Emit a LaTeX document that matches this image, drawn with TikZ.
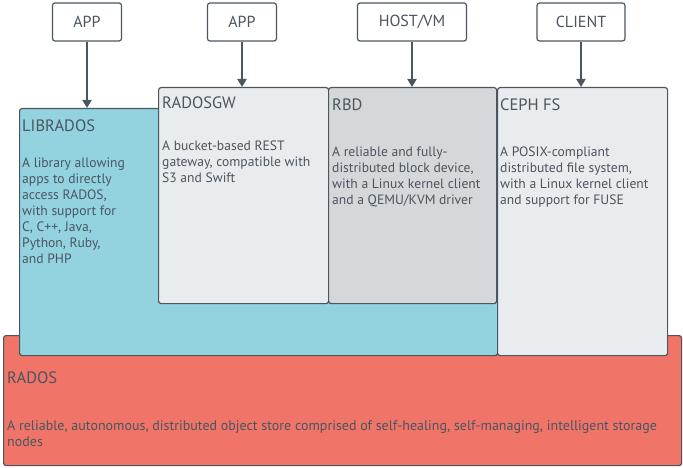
\documentclass[tikz,border=0pt]{standalone}
\usepackage{fontspec}
\setmainfont{PT Sans}
\usepackage{xcolor}
\usetikzlibrary{arrows.meta, positioning, calc}
\definecolor{edgegray}{HTML}{4B5660}
\definecolor{textgray}{HTML}{4A5560}
\definecolor{libblue}{HTML}{93D3E0}
\definecolor{lightpanel}{HTML}{E9ECEE}
\definecolor{darkpanel}{HTML}{D5D8DA}
\definecolor{radosred}{HTML}{F07468}
\tikzset{
  clientbox/.style={
    rectangle, draw=edgegray, line width=1.2pt, rounded corners=2.5pt, fill=white,
    minimum width=69pt, minimum height=38pt, text=textgray, font=\fontsize{16}{18}\selectfont
  },
  layerbox/.style={
    rectangle, draw=edgegray, line width=1.2pt, rounded corners=2.5pt,
    anchor=north west, inner sep=0pt
  },
  layertitle/.style={
    anchor=north west, inner sep=0pt, text=textgray, font=\fontsize{16.5}{18}\selectfont
  },
  layertext/.style={
    anchor=north west, inner sep=0pt, align=left, text=textgray,
    font=\fontsize{13.6}{16}\selectfont
  },
  flowarrow/.style={
    draw=edgegray, line width=1.8pt, -{Triangle[length=8pt, width=9pt]}
  }
}
\begin{document}
\begin{tikzpicture}[x=1pt, y=-1pt]
  \useasboundingbox (0,0) rectangle (683,468);
  % base layer
  \node[layerbox, fill=radosred, minimum width=678pt, minimum height=130pt] (rados) at (3,335) {};
  \node[layerbox, fill=libblue, minimum width=478pt, minimum height=247pt] (librados) at (19,108) {};
  \node[layerbox, fill=lightpanel, minimum width=170pt, minimum height=216pt] (radosgw) at (158,87) {};
  \node[layerbox, fill=darkpanel, minimum width=168pt, minimum height=216pt] (rbd) at (328,87) {};
  \node[layerbox, fill=lightpanel, minimum width=170pt, minimum height=268pt] (cephfs) at (497,87) {};

  % titles
  \node[layertitle] (radostitle) at (7,372) {RADOS};
  \node[layertitle] (libradostitle) at (22,120) {LIBRADOS};
  \node[layertitle] (radosgwtitle) at (162,97) {RADOSGW};
  \node[layertitle] (rbdtitle) at (332,99) {RBD};
  \node[layertitle] (cephfstitle) at (500,99) {CEPH FS};

  % descriptions
  \node[layertext, font=\fontsize{14}{16}\selectfont] (radostext) at (7,420) {A reliable, autonomous, distributed object store comprised of self-healing, self-managing, intelligent storage\\nodes};
  \node[layertext] (libradostext) at (22,158) {A library allowing\\apps to directly\\access RADOS,\\with support for\\C, C++, Java,\\Python, Ruby,\\and PHP};
  \node[layertext] (radosgwtext) at (162,141) {A bucket-based REST\\gateway, compatible with\\S3 and Swift};
  \node[layertext] (rbdtext) at (332,147) {A reliable and fully-\\distributed block device,\\with a Linux kernel client\\and a QEMU/KVM driver};
  \node[layertext] (cephfstext) at (500,147) {A POSIX-compliant\\distributed file system,\\with a Linux kernel client\\and support for FUSE};

  % clients
  \node[clientbox] (app1) at (87,22) {APP};
  \node[clientbox] (app2) at (242,22) {APP};
  \node[clientbox, minimum width=109pt] (host) at (412,22) {HOST/VM};
  \node[clientbox, minimum width=88pt] (client) at (581,22) {CLIENT};

  \draw[flowarrow] (app1) -- (app1 |- librados.north);
  \draw[flowarrow] (app2) -- (app2 |- radosgw.north);
  \draw[flowarrow] (host) -- (host |- rbd.north);
  \draw[flowarrow] (client) -- (client |- cephfs.north);
\end{tikzpicture}
\end{document}
